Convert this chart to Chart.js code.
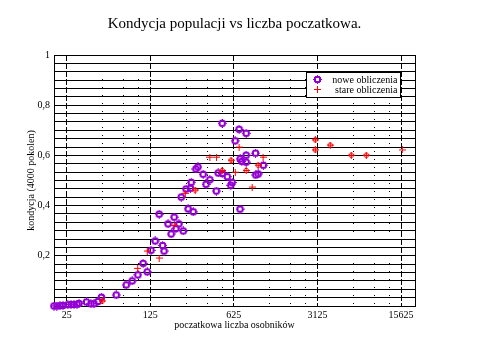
<!DOCTYPE html>
<html>
<head>
<meta charset="utf-8">
<script src="https://cdn.jsdelivr.net/npm/chart.js@4.4.1/dist/chart.umd.min.js"></script>
<style>
html,body{margin:0;padding:0;background:#fff}
#c{display:block}
</style>
</head>
<body>
<canvas id="c" width="480" height="360"></canvas>
<script>
// ---- texts ----
const tytul = 'Kondycja populacji vs liczba poczatkowa.';
const tytulX = 'poczatkowa liczba osobników';
const tytulY = 'kondycja (4000 pokolen)';
const etykietaNowe = 'nowe obliczenia';
const etykietaStare = 'stare obliczenia';

// ---- series: nowe obliczenia ----
const noweX = [19.6, 20.7, 22, 23.3, 25.6, 27.2, 28.8, 30.5, 31.7, 36.6, 39.9, 42.3, 45.7, 48.8, 64.9, 78.7, 88.3, 98.6, 109, 118, 127, 137.5, 148.5, 158.5, 163, 176, 187, 198, 205, 217, 227, 236, 249, 259, 271, 275, 286, 301, 313, 346, 366, 394, 446, 462, 499, 499, 551, 590, 605, 641, 692, 704, 706, 729, 792, 792, 792, 949, 954, 998, 1103];
const noweY = [0.000, 0.000, 0.001, 0.002, 0.005, 0.006, 0.006, 0.007, 0.010, 0.016, 0.009, 0.009, 0.018, 0.035, 0.044, 0.084, 0.100, 0.124, 0.170, 0.136, 0.222, 0.259, 0.366, 0.241, 0.219, 0.327, 0.287, 0.354, 0.308, 0.327, 0.434, 0.299, 0.466, 0.387, 0.469, 0.493, 0.375, 0.546, 0.554, 0.525, 0.485, 0.503, 0.458, 0.530, 0.528, 0.728, 0.515, 0.481, 0.492, 0.658, 0.704, 0.386, 0.586, 0.576, 0.688, 0.601, 0.573, 0.609, 0.522, 0.526, 0.561];

// ---- series: stare obliczenia ----
const stareX = [49.6, 98.2, 117.9, 148.5, 198, 245, 297, 394, 448, 499, 593, 643, 692, 792, 889, 998, 1098, 3000, 3000, 4000, 6000, 8000, 16000];
const stareY = [0.020, 0.150, 0.219, 0.191, 0.321, 0.449, 0.462, 0.593, 0.593, 0.540, 0.581, 0.533, 0.633, 0.540, 0.474, 0.561, 0.593, 0.662, 0.622, 0.641, 0.601, 0.601, 0.622];

// ---- ticks ----
const xTicks = [25, 125, 625, 3125, 15625];
const xTickLabels = ['25', '125', '625', '3125', '15625'];
const xMinor = [50, 75, 100, 250, 375, 500, 1250, 1875, 2500, 6250, 9375, 12500];
const yTicks = [0.2, 0.4, 0.6, 0.8, 1];
const yTickLabels = ['0,2', '0,4', '0,6', '0,8', '1'];
const yGrid = Array.from({length: 31}, (_, k) => k / 30);

// ---- styles ----
const FIOLET = '#9400d3';
const CZERWONY = '#ff0000';
const stareKolko = new Set([0, 6, 9, 10, 13, 15, 17, 18, 19, 20, 21]);

function markerNowe() {
  const c = document.createElement('canvas'); c.width = 9; c.height = 9;
  const g = c.getContext('2d'); g.fillStyle = FIOLET;
  g.fillRect(1, 1, 7, 7); g.clearRect(3, 3, 3, 3);
  g.clearRect(1, 1, 1, 1); g.clearRect(7, 1, 1, 1); g.clearRect(1, 7, 1, 1); g.clearRect(7, 7, 1, 1);
  g.fillRect(4, 0, 1, 1); g.fillRect(4, 8, 1, 1); g.fillRect(0, 4, 1, 1); g.fillRect(8, 4, 1, 1);
  return c;
}
function markerPlus() {
  const c = document.createElement('canvas'); c.width = 7; c.height = 7;
  const g = c.getContext('2d'); g.fillStyle = CZERWONY;
  g.fillRect(3, 0, 1, 7); g.fillRect(0, 3, 7, 1);
  return c;
}
function markerKolkoPlus() {
  const c = document.createElement('canvas'); c.width = 7; c.height = 7;
  const g = c.getContext('2d'); g.fillStyle = CZERWONY;
  g.fillRect(2, 1, 3, 1); g.fillRect(2, 5, 3, 1); g.fillRect(1, 2, 1, 3); g.fillRect(5, 2, 1, 3);
  g.fillRect(3, 0, 1, 7); g.fillRect(0, 3, 7, 1);
  return c;
}
const imgNowe = markerNowe();
const imgPlus = markerPlus();
const imgKolko = markerKolkoPlus();

Chart.defaults.font.family = "'Liberation Serif', 'Times New Roman', serif";
Chart.defaults.color = '#000';

const ramka = {
  id: 'ramka',
  beforeDatasetsDraw(chart) {
    const a = chart.chartArea, g = chart.ctx;
    g.save(); g.strokeStyle = '#000'; g.lineWidth = 1; g.setLineDash([]);
    g.strokeRect(Math.round(a.left) + 0.5, Math.round(a.top) + 0.5, Math.round(a.right - a.left), Math.round(a.bottom - a.top));
    g.restore();
  }
};

const legenda = {
  id: 'legenda',
  afterDraw(chart) {
    const a = chart.chartArea, g = chart.ctx;
    const x0 = Math.round(a.right) - 108.5, y0 = Math.round(a.top) + 17.5, w = 94, h = 25;
    g.save();
    g.fillStyle = '#fff'; g.fillRect(x0, y0, w, h);
    g.strokeStyle = '#000'; g.lineWidth = 1; g.setLineDash([]); g.strokeRect(x0, y0, w, h);
    g.drawImage(imgNowe, Math.round(x0 + 10.5 - 4.5), Math.round(y0 + 7 - 4.5));
    g.drawImage(imgPlus, Math.round(x0 + 10.5 - 3.5), Math.round(y0 + 17 - 3.5));
    g.fillStyle = '#000';
    g.font = "10px 'Liberation Serif'";
    g.textAlign = 'right'; g.textBaseline = 'middle';
    g.fillText(etykietaNowe, x0 + w - 3, y0 + 8);
    g.fillText(etykietaStare, x0 + w - 3, y0 + 18);
    g.restore();
  }
};

new Chart(document.getElementById('c'), {
  type: 'scatter',
  data: {
    datasets: [
      {
        label: etykietaStare,
        data: stareX.map((x, i) => ({x: x, y: stareY[i]})),
        pointStyle: (ctx) => stareKolko.has(ctx.dataIndex) ? imgKolko : imgPlus,
        clip: false,
        order: 0
      },
      {
        label: etykietaNowe,
        data: noweX.map((x, i) => ({x: x, y: noweY[i]})),
        pointStyle: imgNowe,
        clip: false,
        order: 1
      }
    ]
  },
  options: {
    responsive: false,
    animation: false,
    events: [],
    layout: {padding: {left: 0, right: 65, top: 0, bottom: 0}},
    plugins: {
      legend: {display: false},
      tooltip: {enabled: false},
      title: {
        display: true, text: tytul, fullSize: false, color: '#000',
        font: {size: 15, weight: 'normal'},
        padding: {top: 15, bottom: 22}
      }
    },
    scales: {
      x: {
        type: 'logarithmic', position: 'bottom', min: 19.6, max: 20450,
        afterBuildTicks: (s) => { s.ticks = xTicks.map(v => ({value: v})); },
        afterFit: (s) => { s.height = 54; },
        ticks: {
          autoSkip: false, maxRotation: 0, padding: 3, color: '#000', font: {size: 10},
          callback: (v) => { const i = xTicks.indexOf(v); return i >= 0 ? xTickLabels[i] : ''; }
        },
        grid: {color: '#000', lineWidth: 1, drawTicks: false},
        border: {display: false, dash: [6, 2]},
        title: {display: true, text: tytulX, color: '#000', font: {size: 10}, padding: {top: 0, bottom: 29}}
      },
      xm: {
        type: 'logarithmic', position: 'bottom', min: 19.6, max: 20450,
        afterBuildTicks: (s) => { s.ticks = xMinor.map(v => ({value: v})); },
        afterFit: (s) => { s.height = 0; },
        ticks: {display: false},
        grid: {color: '#000', lineWidth: 1, drawTicks: false},
        border: {display: false, dash: [1, 7]}
      },
      y: {
        type: 'linear', min: 0, max: 1,
        afterBuildTicks: (s) => { s.ticks = yGrid.map(v => ({value: v})); },
        afterFit: (s) => { s.width = 54; },
        ticks: {
          autoSkip: false, padding: 4, color: '#000', font: {size: 10},
          callback: (v) => { const i = yTicks.findIndex(t => Math.abs(t - v) < 1e-9); return i >= 0 ? yTickLabels[i] : ''; }
        },
        grid: {color: '#000', lineWidth: 1, drawTicks: false},
        border: {display: false},
        title: {display: true, text: tytulY, color: '#000', font: {size: 10}, padding: {top: 25, bottom: 0}}
      }
    }
  },
  plugins: [ramka, legenda]
});
</script>
</body>
</html>
